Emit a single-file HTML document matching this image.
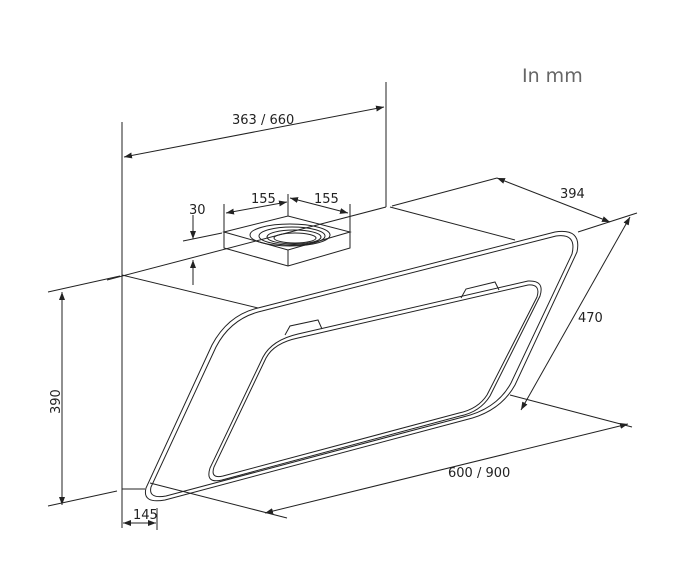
<!DOCTYPE html>
<html><head><style>
html,body{margin:0;padding:0;background:#fff}
svg text{font-family:"DejaVu Sans","Liberation Sans",sans-serif;fill:#222}
</style></head><body>
<svg width="700" height="572" viewBox="0 0 700 572" xmlns="http://www.w3.org/2000/svg">
<defs>
<marker id="a" markerWidth="8" markerHeight="6" refX="8" refY="3" orient="auto-start-reverse" markerUnits="userSpaceOnUse">
<path d="M0,0 L8,3 L0,6 z" fill="#222"/></marker>
</defs>
<g fill="none" stroke="#222" stroke-width="1">
<!-- wall -->
<line x1="122" y1="122" x2="122" y2="528"/>
<line x1="386" y1="82" x2="386" y2="207"/>
<!-- top dim -->
<line x1="124" y1="157" x2="384" y2="107" marker-start="url(#a)" marker-end="url(#a)"/>
<!-- hood top -->
<line x1="107" y1="280" x2="386" y2="207"/>
<line x1="122" y1="275" x2="258" y2="308"/>
<line x1="390" y1="207" x2="515" y2="240"/>
<line x1="392" y1="206" x2="497" y2="178"/>
<line x1="497" y1="178" x2="610" y2="222" marker-start="url(#a)" marker-end="url(#a)"/>
<line x1="578" y1="232" x2="637" y2="213"/>
<line x1="630" y1="217" x2="521" y2="410" marker-start="url(#a)" marker-end="url(#a)"/>
<!-- outer panel -->
<path d="M258,308 L555,232 Q582,228 577,252 L515,385 Q500,412 465,420 L165,500 Q142,504 146,488 L212,345 Q228,315 258,308 Z"/>
<path d="M262,311 L556,236 Q577,233 572,254 L511,383 Q497,409 463,417 L166,496 Q148,499 151,487 L216,347 Q231,318 262,311 Z"/>
<!-- inner panel -->
<path d="M298,334 L528,281 Q545,280 540,296 L490,396 Q480,412 460,416 L222,480 Q205,484 210,468 L263,357 Q272,340 298,334 Z"/>
<path d="M298,338 L528,285 Q541,284 537,297 L487,395 Q478,409 459,413 L223,476 Q210,479 214,467 L266,358 Q274,343 298,338 Z"/>
<path d="M461,298 L466,289 L495,282 L499,290"/>
<path d="M285,335 L290,326 L318,320 L322,329"/>
<!-- bottom -->
<line x1="122" y1="489" x2="145" y2="489"/>
<line x1="150" y1="483" x2="287" y2="518"/>
<line x1="510" y1="395" x2="632" y2="427"/>
<line x1="265" y1="513" x2="628" y2="424" marker-start="url(#a)" marker-end="url(#a)"/>
<line x1="157" y1="508" x2="157" y2="530"/>
<line x1="123" y1="523" x2="156" y2="523" marker-start="url(#a)" marker-end="url(#a)"/>
<!-- 390 -->
<line x1="48" y1="292" x2="120" y2="276"/>
<line x1="48" y1="506" x2="117" y2="491"/>
<line x1="62" y1="292" x2="62" y2="505" marker-start="url(#a)" marker-end="url(#a)"/>
<!-- duct -->
<path d="M224,232 L288,216 L350,232 L288,250 Z"/>
<path d="M224,232 L224,248 L288,266 L350,248 L350,232"/>
<line x1="288" y1="250" x2="288" y2="266"/>
<ellipse cx="290" cy="235" rx="40" ry="11"/>
<ellipse cx="292" cy="236" rx="33" ry="9"/>
<ellipse cx="294" cy="237" rx="27" ry="7"/>
<ellipse cx="295" cy="238" rx="21" ry="5"/>
<line x1="224" y1="204" x2="224" y2="232"/>
<line x1="288" y1="194" x2="288" y2="216"/>
<line x1="350" y1="204" x2="350" y2="232"/>
<line x1="226" y1="213" x2="287" y2="202" marker-start="url(#a)" marker-end="url(#a)"/>
<line x1="290" y1="198" x2="348" y2="213" marker-start="url(#a)" marker-end="url(#a)"/>
<line x1="183" y1="241" x2="222" y2="233"/>
<line x1="193" y1="215" x2="193" y2="239" marker-end="url(#a)"/>
<line x1="193" y1="285" x2="193" y2="260" marker-end="url(#a)"/>
</g>
<text x="522" y="82" font-size="19" style="fill:#666">In mm</text>
<text x="232" y="124" font-size="13">363 / 660</text>
<text x="560" y="198" font-size="13">394</text>
<text x="578" y="322" font-size="13">470</text>
<text x="448" y="477" font-size="13">600 / 900</text>
<text x="133" y="519" font-size="13">145</text>
<text x="251" y="203" font-size="13">155</text>
<text x="314" y="203" font-size="13">155</text>
<text x="189" y="214" font-size="13">30</text>
<text x="0" y="0" font-size="13" transform="translate(60,414) rotate(-90)">390</text>
</svg>
</body></html>
